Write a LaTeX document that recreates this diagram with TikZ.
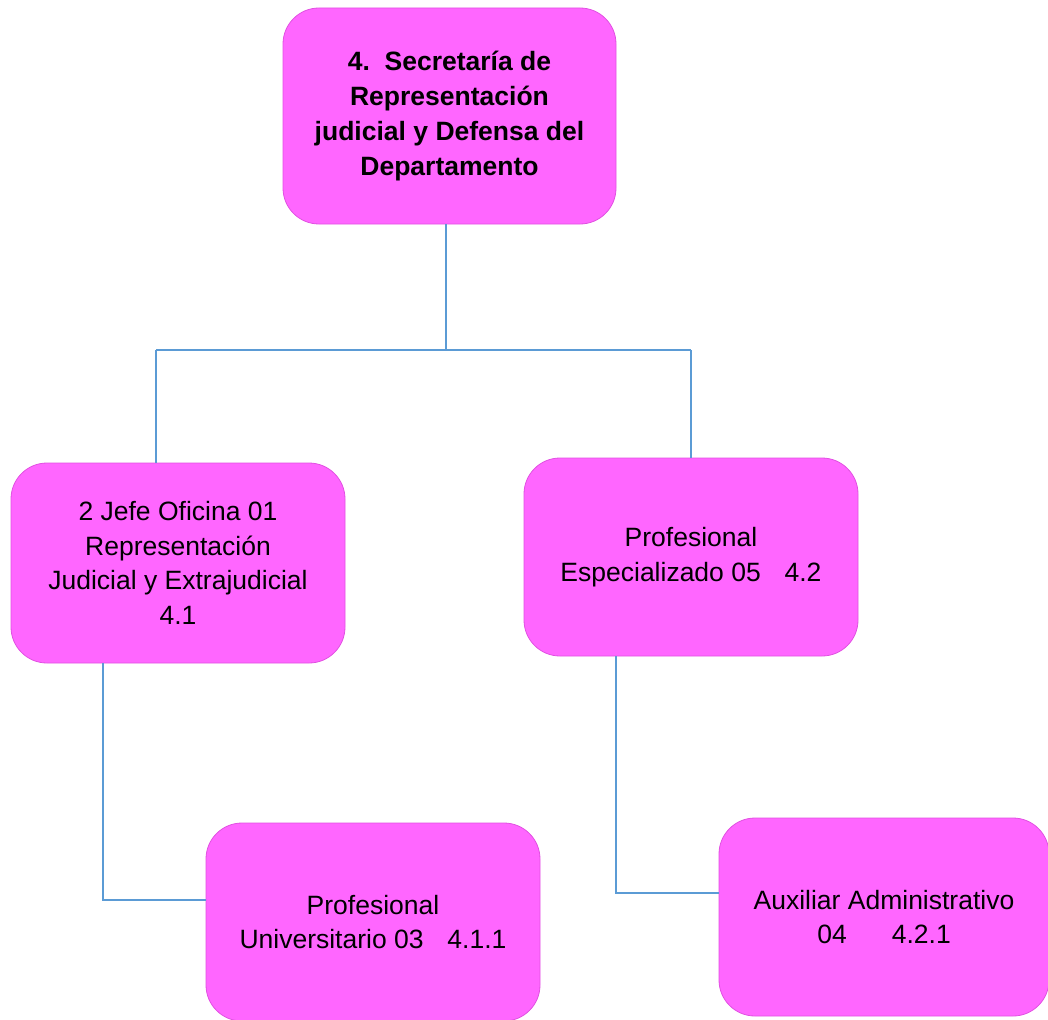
\documentclass[tikz,border=0pt]{standalone}
\usepackage{fontspec}
\setmainfont{Liberation Sans}
\definecolor{boxpink}{RGB}{255,102,255}
\definecolor{boxedge}{RGB}{225,80,225}
\definecolor{linkblue}{RGB}{91,155,213}
\tikzset{
  box/.style={rectangle, rounded corners=36pt, fill=boxpink, draw=boxedge, line width=0.8pt,
    align=center, text=black, inner sep=0pt},
  topfont/.style={font=\fontsize{26.5}{35}\selectfont\bfseries},
  subfont/.style={font=\fontsize{26.5}{34.5}\selectfont},
  link/.style={draw=linkblue, line width=1.2pt}
}
\begin{document}
\begin{tikzpicture}[x=1pt,y=-1pt]
\useasboundingbox (0,0) rectangle (1048,1019);
\node[box, topfont, minimum width=333pt, minimum height=216pt] (top) at (449.5,116)
  {4.\ \ Secretaría de\\Representación\\judicial y Defensa del\\Departamento};
\node[box, subfont, minimum width=334pt, minimum height=200pt] (left) at (178,563)
  {2 Jefe Oficina 01\\Representación\\Judicial y Extrajudicial\\4.1};
\node[box, subfont, minimum width=334pt, minimum height=198pt] (right) at (691,557)
  {Profesional\\Especializado 05\hspace{0.9em}4.2};
\node[box, subfont, minimum width=334pt, minimum height=198pt] (bl) at (373,922)
  {Profesional\\Universitario 03\hspace{0.9em}4.1.1};
\node[box, subfont, minimum width=330pt, minimum height=198pt] (br) at (884,917)
  {Auxiliar Administrativo\\04\hspace{1.7em}4.2.1};
\coordinate (j) at (446,350);
\coordinate (jl) at (156,350);
\coordinate (jr) at (691,350);
\coordinate (lb) at (103,900);
\coordinate (rb) at (616,893);
\draw[link] (top.south -| j) -- (j);
\draw[link] (jl) -- (jr);
\draw[link] (jl) -- (left.north -| jl);
\draw[link] (jr) -- (right.north);
\draw[link] (left.south -| lb) -- (lb) -- (bl.west |- lb);
\draw[link] (right.south -| rb) -- (rb) -- (br.west |- rb);
\end{tikzpicture}
\end{document}
